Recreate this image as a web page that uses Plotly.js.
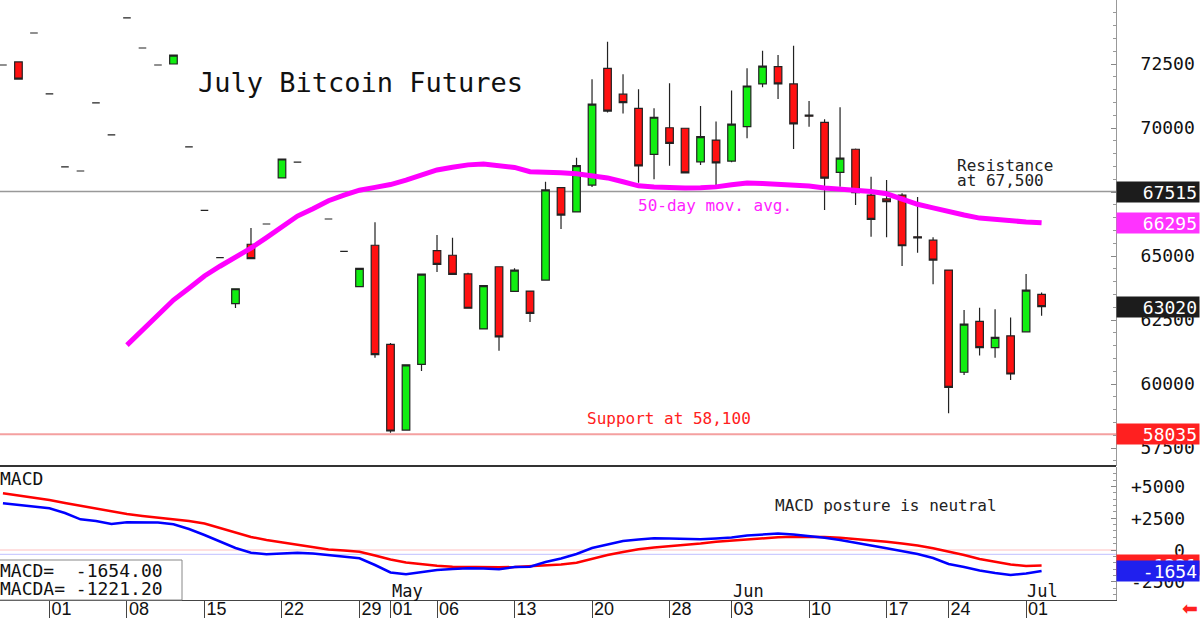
<!DOCTYPE html>
<html>
<head>
<meta charset="utf-8">
<script src="https://cdn.plot.ly/plotly-3.0.1.min.js"></script>
<style>html,body{margin:0;padding:0;background:#fff}#chart{width:1200px;height:618px}</style>
</head>
<body>
<div id="chart"></div>
<script>
// ---------- DATA ----------
const dates = ["2024-03-26","2024-03-27","2024-03-28","2024-04-01","2024-04-02","2024-04-03","2024-04-04","2024-04-05","2024-04-08","2024-04-09",
"2024-04-10","2024-04-11","2024-04-12","2024-04-15","2024-04-16","2024-04-17","2024-04-18","2024-04-19","2024-04-22","2024-04-23",
"2024-04-24","2024-04-25","2024-04-26","2024-04-29","2024-04-30","2024-05-01","2024-05-02","2024-05-03","2024-05-06","2024-05-07",
"2024-05-08","2024-05-09","2024-05-10","2024-05-13","2024-05-14","2024-05-15","2024-05-16","2024-05-17","2024-05-20","2024-05-21",
"2024-05-22","2024-05-23","2024-05-24","2024-05-28","2024-05-29","2024-05-30","2024-05-31","2024-06-03","2024-06-04","2024-06-05",
"2024-06-06","2024-06-07","2024-06-10","2024-06-11","2024-06-12","2024-06-13","2024-06-14","2024-06-17","2024-06-18","2024-06-20",
"2024-06-21","2024-06-24","2024-06-25","2024-06-26","2024-06-27","2024-06-28","2024-07-01","2024-07-02"];

const openP = [72460,72580,73710,71330,68480,68320,70980,69730,74300,73125,
72460,72500,69260,66780,64940,63140,65460,66250,68050,68670,
null,66445,65180,63800,65420,61550,58200,60770,65210,65030,
64300,62150,64580,63620,63630,64060,67670,66720,67770,72330,
71320,70770,68970,70010,69990,68680,69530,68710,70050,71720,
72400,71720,70500,70220,68270,69170,67380,67230,67380,65750,
65620,64450,60460,62450,61420,61880,62040,63500];

const highP = [72460,72600,73710,71330,68480,68320,70980,69730,74300,73125,
72460,72860,69260,66780,64940,63730,66090,66250,68800,68670,
null,66445,65180,64530,66320,61600,60760,64300,65820,65715,
64350,63850,64600,64520,63640,67900,67680,68840,71900,73370,
72100,71510,70770,71750,70010,70860,70250,71460,72330,73020,
72850,73210,71055,70340,70810,69200,68100,67970,67450,67300,
65730,64470,62890,62980,62920,62600,64300,63570];

const lowP = [72460,71900,73710,71330,68480,68320,70980,69730,74300,73125,
72460,72490,69260,66780,64940,62970,64890,66250,68040,68670,
null,66445,65180,63790,61030,58100,58190,60510,64375,64280,
62950,62140,61300,63610,62420,64050,66055,66700,67700,70610,
70570,67860,68000,68530,68230,68550,67770,68660,69600,71590,
71130,69180,70050,66800,67710,66990,65750,65730,64610,65130,
63900,58860,60350,61110,61030,60160,62030,62670];

const closeP = [72460,71910,73710,71330,68480,68320,70980,69730,74300,73125,
72460,72850,69260,66780,64940,63720,64900,66250,68790,68670,
null,66445,65180,64520,61150,58165,60750,64295,64675,64285,
62960,63840,61840,64450,62760,67580,66600,68530,70930,70660,
70990,68520,70420,69400,68250,69660,68640,70150,71640,72420,
71720,70160,70460,68040,68820,67470,66430,67120,65400,65710,
64840,59870,62340,61420,61820,60390,63670,63020];

const ma50 = [null,null,null,null,null,null,null,null,
61520,62110,62700,63280,63740,64220,64600,64950,65310,65720,
66130,66560,66850,67160,67380,67570,67680,67790,67960,68150,
68360,68470,68560,68590,68540,68460,68290,68280,68250,68210,
68130,68050,67900,67740,67700,67670,67660,67670,67700,67780,
67850,67830,67800,67770,67730,67660,67620,67580,67520,67430,
67230,67020,66880,66720,66600,66480,66420,66380,66330,66295];

const macdLine = [3685,3551,3432,3290,2919,2422,2288,2051,2186,2186,
2170,2028,1657,1184,671,158,-213,-339,-276,-213,
-276,-395,-552,-655,-1184,-1775,-1917,-1736,-1578,-1499,
-1444,-1460,-1523,-1341,-1318,-947,-671,-316,158,434,
710,828,923,907,868,844,907,986,1144,1223,
1302,1223,1105,963,789,592,355,134,-79,-316,
-631,-1105,-1341,-1617,-1815,-1973,-1854,-1654];

const macdAvg = [4474,4300,4142,3945,3708,3495,3259,3038,2840,2683,
2564,2446,2288,2091,1736,1381,1026,789,592,395,
197,39,-39,-134,-434,-750,-986,-1144,-1247,-1318,
-1341,-1357,-1365,-1341,-1286,-1223,-1144,-1002,-671,-395,
-158,63,197,292,395,513,655,750,844,923,
1002,1049,1049,1026,963,868,750,655,513,355,
134,-118,-395,-710,-923,-1144,-1262,-1221];

const tickDates = ["2024-04-01","2024-04-08","2024-04-15","2024-04-22","2024-04-29","2024-05-01","2024-05-06","2024-05-13","2024-05-20","2024-05-28","2024-06-03","2024-06-10","2024-06-17","2024-06-24","2024-07-01"];
const tickLabels = ["01","08","15","22","29","01","06","13","20","28","03","10","17","24","01"];
const monthDates = ["2024-05-01","2024-06-03","2024-07-01"];
const monthLabels = ["May","Jun","Jul"];
const macdTicks = [5000,2500,0,-2500];
const macdTickLabels = ["+5000","+2500","0","-2500"];

const resistanceLevel = 67515;
const supportLevel = 58035;
const lastMA = 66295;
const lastClose = 63020;
const macdValue = -1654.00;
const macdaValue = -1221.20;

// ---------- CHART ----------
const MONO = 'DejaVu Sans Mono';
const PW = 1116; // plot width in px
const px = v => v / PW;            // paper x from pixel
const py = v => (600 - v) / 600;   // paper y from pixel

const traces = [
  {
    type: 'candlestick', x: dates, open: openP, high: highP, low: lowP, close: closeP,
    xaxis: 'x', yaxis: 'y',
    increasing: {line: {color: '#222', width: 1.2}, fillcolor: '#11ee11'},
    decreasing: {line: {color: '#222', width: 1.2}, fillcolor: '#ff1111'},
    hoverinfo: 'skip', showlegend: false
  },
  {
    type: 'scatter', mode: 'lines', x: dates, y: ma50, xaxis: 'x', yaxis: 'y',
    line: {color: '#ff00ff', width: 5}, hoverinfo: 'skip', showlegend: false
  },
  {
    type: 'scatter', mode: 'lines', x: dates, y: macdAvg, xaxis: 'x', yaxis: 'y2',
    line: {color: '#ff0000', width: 2.5}, hoverinfo: 'skip', showlegend: false
  },
  {
    type: 'scatter', mode: 'lines', x: dates, y: macdLine, xaxis: 'x', yaxis: 'y2',
    line: {color: '#0000ff', width: 2.5}, hoverinfo: 'skip', showlegend: false
  }
];

function valueBox(text, yref, y, bg) {
  return {xref: 'paper', x: 1, xanchor: 'left', yref: yref, y: y, yanchor: 'middle',
    text: text, showarrow: false, bgcolor: bg, width: 78, height: 16, align: 'right',
    borderpad: 2, font: {family: MONO, size: 18, color: '#fff'}};
}
function label(text, x, y, color, size, anchor) {
  return {xref: 'paper', yref: 'paper', x: x, y: y, xanchor: anchor || 'left', yanchor: 'middle',
    text: text, showarrow: false, font: {family: MONO, size: size, color: color}};
}

const annotations = [
  label('July Bitcoin Futures', px(196), py(83), '#111', 27),
  label('Resistance', px(955), py(165), '#222', 16),
  label('at 67,500', px(955), py(181), '#222', 16),
  label('50-day mov. avg.', px(636), py(205), '#ff22ff', 16),
  label('Support at 58,100', px(585), py(418), '#ff2020', 16),
  label('MACD', px(-2), py(478), '#111', 18),
  label('MACD posture is neutral', px(773), py(505), '#222', 16),
  label('MACD=\u00a0\u00a0' + macdValue.toFixed(2), px(-2), py(570), '#111', 18),
  label('MACDA=\u00a0' + macdaValue.toFixed(2), px(-2), py(588), '#111', 18)
];
monthDates.forEach((d, i) => annotations.push({
  xref: 'x', x: d, xanchor: 'left', xshift: -1, yref: 'paper', y: py(591), yanchor: 'middle',
  text: monthLabels[i], showarrow: false, font: {family: MONO, size: 17, color: '#111'}
}));
macdTicks.forEach((v, i) => annotations.push({
  xref: 'paper', x: 1, xanchor: 'right', xshift: 71, yref: 'y2', y: v, yanchor: 'middle',
  text: macdTickLabels[i], showarrow: false, font: {family: MONO, size: 18, color: '#111'}
}));
annotations.push(valueBox(String(resistanceLevel), 'y', resistanceLevel, '#1c1c1c'));
annotations.push(valueBox(String(lastMA), 'y', lastMA, '#ff33ff'));
annotations.push(valueBox(String(lastClose), 'y', lastClose, '#1c1c1c'));
annotations.push(valueBox(String(supportLevel), 'y', supportLevel, '#ff2020'));
annotations.push(valueBox(String(Math.round(macdaValue)), 'y2', macdaValue, '#ff2020'));
annotations.push(valueBox(String(Math.round(macdValue)), 'y2', macdValue, '#2020ee'));
annotations.push({xref: 'paper', x: 1, xanchor: 'right', xshift: 84, yref: 'paper', y: py(608), yanchor: 'middle',
  text: '\u2B05', showarrow: false, font: {family: 'DejaVu Sans', size: 19, color: '#ff2020'}});

const shapes = [
  {type: 'line', xref: 'paper', x0: 0, x1: 1, yref: 'y', y0: resistanceLevel, y1: resistanceLevel,
   line: {color: '#999', width: 1.5}, layer: 'below'},
  {type: 'line', xref: 'paper', x0: 0, x1: 1, yref: 'y', y0: supportLevel, y1: supportLevel,
   line: {color: '#f4a0a0', width: 2}, layer: 'below'},
  {type: 'line', xref: 'paper', x0: 0, x1: 1, yref: 'y2', y0: 0, y1: 0,
   line: {color: '#ffc0c0', width: 1}, layer: 'below'},
  {type: 'line', xref: 'paper', x0: 0, x1: 1, yref: 'y2', y0: -340, y1: -340,
   line: {color: '#c0c0ff', width: 1}, layer: 'below'},
  {type: 'line', xref: 'paper', x0: 0, x1: 1, yref: 'paper', y0: py(466), y1: py(466),
   line: {color: '#333', width: 2}},
  {type: 'rect', xref: 'paper', x0: -0.01, x1: px(182), yref: 'paper', y0: 0, y1: py(560),
   line: {color: '#888', width: 1}, fillcolor: 'rgba(0,0,0,0)'}
];

const layout = {
  width: 1200, height: 618,
  margin: {l: 0, r: 84, t: 0, b: 18, pad: 0},
  paper_bgcolor: '#fff', plot_bgcolor: '#fff',
  showlegend: false, hovermode: false, dragmode: false,
  xaxis: {
    type: 'category', range: [-0.19, 71.8], anchor: 'y2',
    rangeslider: {visible: false},
    showgrid: false, zeroline: false, showline: true, linecolor: '#444', linewidth: 1,
    ticks: 'outside', ticklen: 18, tickcolor: '#444', tickwidth: 1,
    tickmode: 'array', tickvals: tickDates, ticktext: tickLabels,
    tickfont: {family: 'Liberation Sans', size: 18, color: '#111'},
    ticklabelshift: 12, ticklabelstandoff: -26, fixedrange: true
  },
  yaxis: {
    domain: [py(466), 1], range: [56797, 75000], side: 'right', anchor: 'x',
    showgrid: false, zeroline: false, showline: true, linecolor: '#999', linewidth: 1,
    ticks: 'inside', ticklen: 5, tickcolor: '#888', tick0: 0, dtick: 2500, tickformat: 'd',
    minor: {dtick: 500, ticks: 'inside', ticklen: 3, tickcolor: '#999'},
    tickfont: {family: MONO, size: 18, color: '#111'}, ticklabelstandoff: 20, fixedrange: true
  },
  yaxis2: {
    domain: [0, py(467)], range: [-3945, 6549], side: 'right', anchor: 'x',
    showgrid: false, zeroline: false, showline: true, linecolor: '#999', linewidth: 1,
    ticks: 'inside', ticklen: 5, tickcolor: '#888', tick0: 0, dtick: 2500,
    minor: {dtick: 500, ticks: 'inside', ticklen: 3, tickcolor: '#999'},
    showticklabels: false, fixedrange: true
  },
  shapes: shapes,
  annotations: annotations
};

Plotly.newPlot('chart', traces, layout, {displayModeBar: false, staticPlot: true});
</script>
</body>
</html>
